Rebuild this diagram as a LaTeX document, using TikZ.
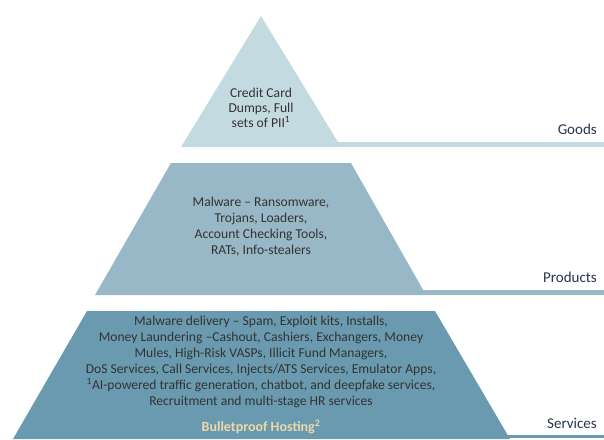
\documentclass[tikz,border=0pt]{standalone}
\usepackage{fontspec}
\setmainfont{Carlito}
\usetikzlibrary{positioning}

\definecolor{goodsblue}{HTML}{C4DAE1}
\definecolor{productsblue}{HTML}{98B8C7}
\definecolor{servicesblue}{HTML}{6A9AAF}
\definecolor{tiertext}{HTML}{333333}
\definecolor{labelnavy}{HTML}{26344F}
\definecolor{hostingtan}{HTML}{EED8A6}

\tikzset{
    tier text/.style={align=center, text=tiertext, inner sep=0pt,
        font=\fontsize{13.6}{16}\selectfont},
    tier label/.style={anchor=east, text=labelnavy, inner sep=0pt,
        font=\fontsize{15}{18}\selectfont},
}

\begin{document}
\begin{tikzpicture}[x=1pt, y=-1pt]
\useasboundingbox (0,0) rectangle (604,439);

% goods
\fill[goodsblue] (261,16) -- (341,147) -- (181,147) -- cycle;
\fill[goodsblue] (335,142) rectangle (604,147);

% products
\fill[productsblue] (171,163) -- (351,163) -- (426,295) -- (95,295) -- cycle;
\fill[productsblue] (420,290) rectangle (604,295);

% services
\fill[servicesblue] (87,311) -- (435,311) -- (510,439) -- (13,439) -- cycle;
\fill[servicesblue] (505,435) rectangle (604,438);

\node[tier text, font=\fontsize{13.6}{15.2}\selectfont] (goodsText) at (261,108)
    {Credit Card\\Dumps, Full\\sets of PII\textsuperscript{1}};
\node[tier text] (productsText) at (261,227)
    {Malware -- Ransomware,\\Trojans, Loaders,\\Account Checking Tools,\\RATs, Info-stealers};
\node[tier text] (servicesText) at (261,362)
    {Malware delivery -- Spam, Exploit kits, Installs,\\
     Money Laundering --Cashout, Cashiers, Exchangers, Money\\
     Mules, High-Risk VASPs, Illicit Fund Managers,\\
     DoS Services, Call Services, Injects/ATS Services, Emulator Apps,\\
     \textsuperscript{1}AI-powered traffic generation, chatbot, and deepfake services,\\
     Recruitment and multi-stage HR services};
\node[tier text, text=hostingtan, font=\fontsize{14}{16}\selectfont\bfseries]
    (hosting) at (261,427) {Bulletproof Hosting\textsuperscript{2}};

\node[tier label] (goods) at (597,129) {Goods};
\node[tier label] (products) at (597,277) {Products};
\node[tier label] (services) at (597,423) {Services};

\end{tikzpicture}
\end{document}
